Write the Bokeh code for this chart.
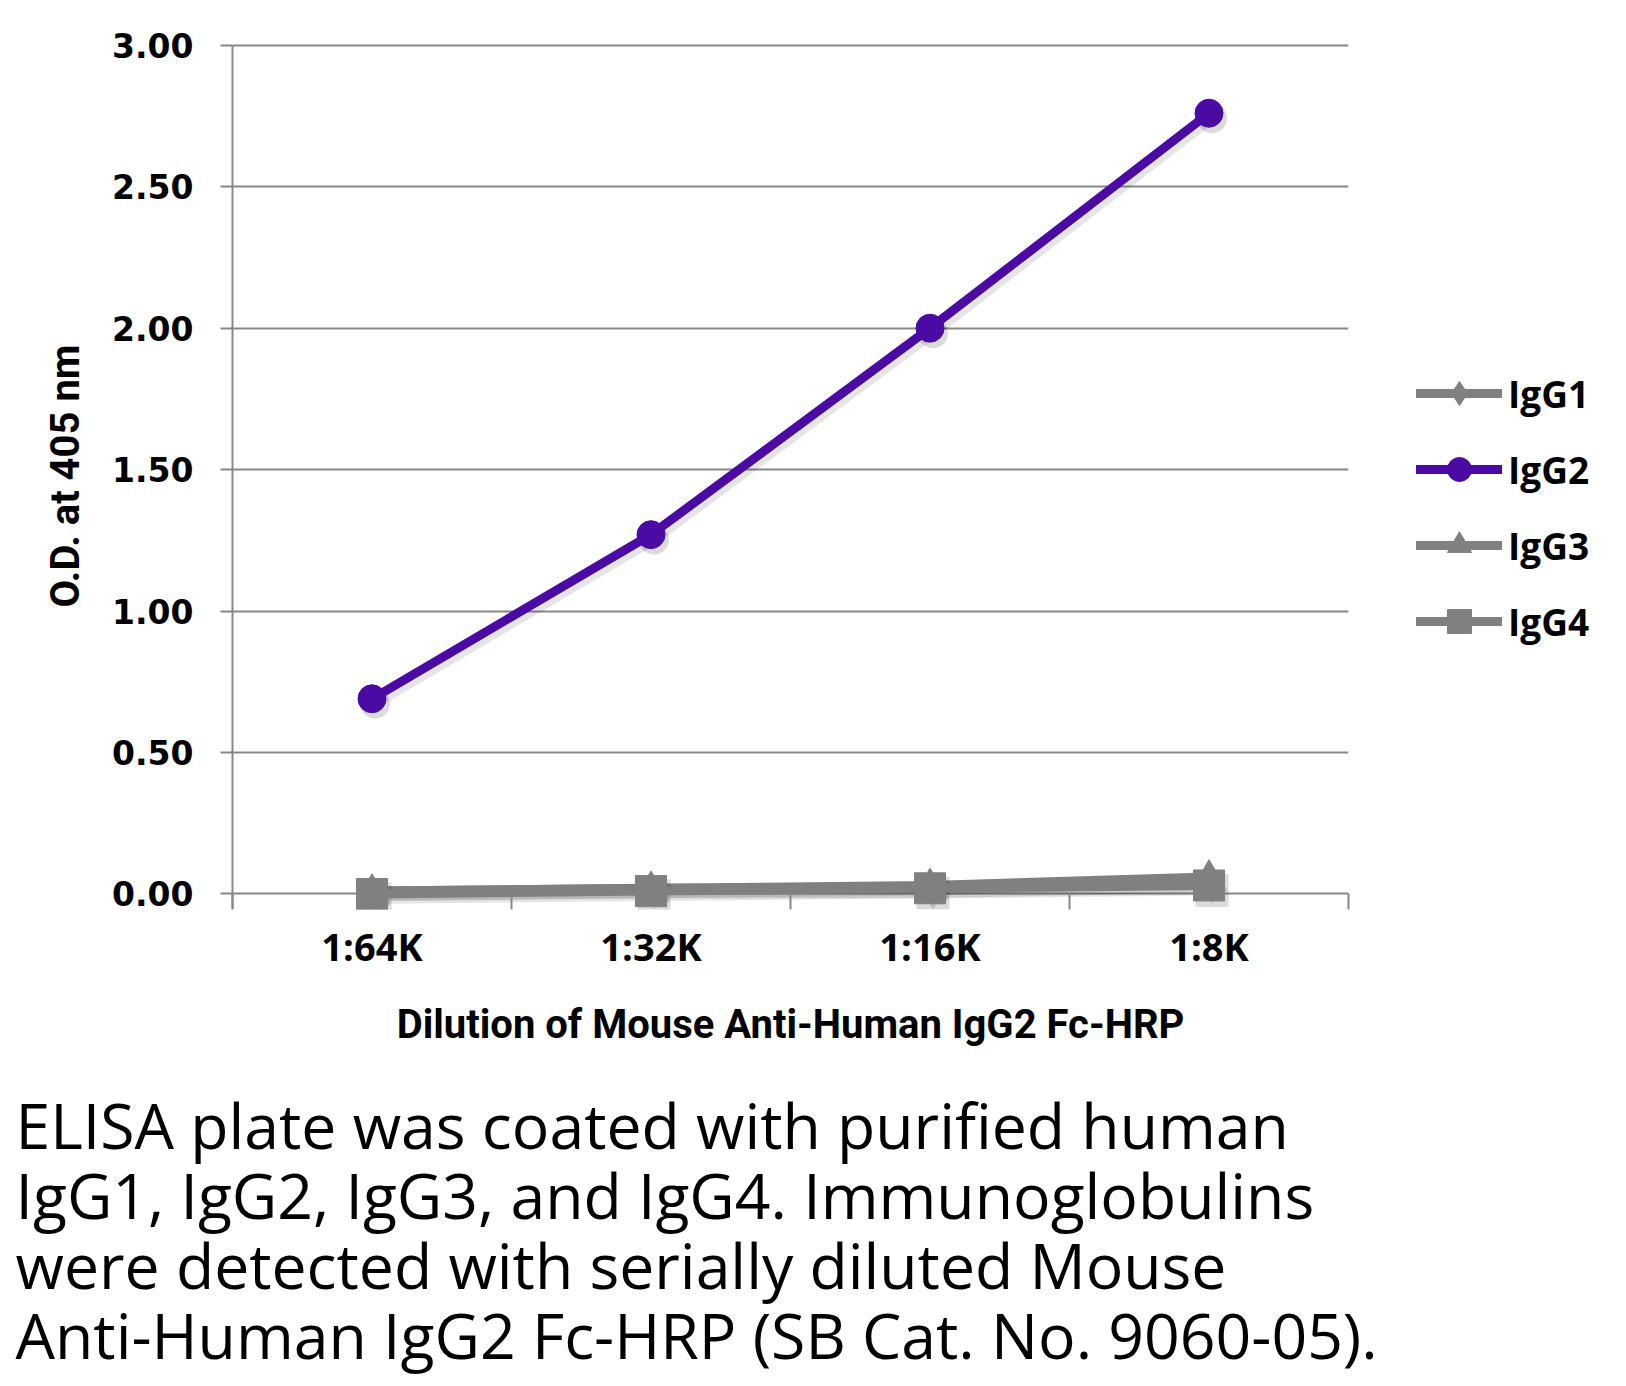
from bokeh.plotting import figure
from bokeh.models import Range1d, FixedTicker, Legend, LegendItem, Title, NumeralTickFormatter
from bokeh.embed import file_html
from bokeh.resources import INLINE

# ---------------- data ----------------
dilutions = ["1:64K", "1:32K", "1:16K", "1:8K"]
igg1 = [0.01, 0.02, 0.02, 0.04]
igg2 = [0.69, 1.27, 2.00, 2.76]
igg3 = [0.01, 0.02, 0.03, 0.06]
igg4 = [0.00, 0.01, 0.02, 0.03]
series_names = ["IgG1", "IgG2", "IgG3", "IgG4"]
y_ticks = [0.0, 0.5, 1.0, 1.5, 2.0, 2.5, 3.0]
x_title = "Dilution of Mouse Anti-Human IgG2 Fc-HRP"
y_title = "O.D. at 405 nm"
caption_lines = [
    "ELISA plate was coated with purified human",
    "IgG1, IgG2, IgG3, and IgG4.  Immunoglobulins",
    "were detected with serially diluted Mouse",
    "Anti-Human IgG2 Fc-HRP (SB Cat. No. 9060-05).",
]

# ---------------- layout ----------------
W, H = 1610, 1382
FL, FT = 232, 42            # frame left / top (px)
FW, FH = 1116, 867          # frame size (px)
FR = W - FL - FW            # right panel width (legend)
FB = FT + FH                # frame bottom
Y_START, Y_END = -0.055, 3.01
PX_X = FW / 4.0
PX_Y = FH / (Y_END - Y_START)
GRAY = "#878787"
SER_GRAY = "#808080"
PURPLE = "#4b0aa3"

xs = [i + 0.5 for i in range(len(dilutions))]
n_cat = len(dilutions)

p = figure(
    frame_width=FW, frame_height=FH,
    x_range=Range1d(0, n_cat), y_range=Range1d(Y_START, Y_END),
    output_backend="svg", toolbar_location=None,
    min_border_left=FL, min_border_top=FT,
    min_border_right=FR, min_border_bottom=H - FB,
    outline_line_color=None, background_fill_color="white", border_fill_color="white",
)

# x axis (below the frame; the 0.00 grid line acts as axis line)
xa = p.xaxis[0]
xa.ticker = FixedTicker(ticks=xs, minor_ticks=list(range(n_cat + 1)))
xa.major_label_overrides = {x: lab for x, lab in zip(xs, dilutions)}
xa.axis_line_color = None
xa.major_tick_line_color = None
xa.major_tick_out = 0
xa.major_tick_in = 0
xa.minor_tick_line_color = GRAY
xa.minor_tick_line_width = 2
xa.minor_tick_out = 0
xa.minor_tick_in = int(round(-Y_START * PX_Y))
xa.major_label_standoff = 10
xa.major_label_text_font = "Open Sans"
xa.major_label_text_font_style = "bold"
xa.major_label_text_font_size = "38px"
xa.major_label_text_color = "black"
xa.axis_label = x_title
xa.axis_label_text_font = "Roboto"
xa.axis_label_text_font_style = "bold"
xa.axis_label_text_font_size = "40px"
xa.axis_label_text_color = "black"
xa.axis_label_standoff = 26

# y axis
ya = p.yaxis[0]
ya.ticker = FixedTicker(ticks=y_ticks)
ya.formatter = NumeralTickFormatter(format="0.00")
ya.bounds = (-0.05, 3)
ya.axis_line_color = GRAY
ya.axis_line_width = 2
ya.major_tick_line_color = GRAY
ya.major_tick_line_width = 2
ya.major_tick_out = 12
ya.major_tick_in = 0
ya.minor_tick_line_color = None
ya.major_label_standoff = 27
ya.major_label_text_font = "DejaVu Sans"
ya.major_label_text_font_style = "bold"
ya.major_label_text_font_size = "33px"
ya.major_label_text_color = "black"
ya.axis_label = y_title
ya.axis_label_text_font = "Roboto"
ya.axis_label_text_font_style = "bold"
ya.axis_label_text_font_size = "40px"
ya.axis_label_text_color = "black"
ya.axis_label_standoff = 20

p.xgrid.visible = False
p.ygrid.grid_line_color = GRAY
p.ygrid.grid_line_width = 2

# ---------------- series ----------------
styles = [
    (igg1, "diamond", SER_GRAY, 30),
    (igg2, "circle", PURPLE, 28),
    (igg3, "triangle", SER_GRAY, 30),
    (igg4, "square", SER_GRAY, 31),
]

sh_x = 3 / PX_X
sh_y = 5 / PX_Y
items = []
for name, (vals, marker, color, size) in zip(series_names, styles):
    # soft drop shadow
    p.line([x + sh_x for x in xs], [v - sh_y for v in vals], line_width=10,
           line_color="black", line_alpha=0.10, line_cap="round", line_join="round")
    p.scatter([x + sh_x for x in xs], [v - sh_y for v in vals], marker=marker,
              size=size + 2, fill_color="black", fill_alpha=0.14, line_color=None)
    lr = p.line(xs, vals, line_width=9, line_color=color, line_cap="round", line_join="round")
    sr = p.scatter(xs, vals, marker=marker, size=size, fill_color=color, line_color=color)
    items.append(LegendItem(label=name, renderers=[lr, sr]))

GLYPH_H, SPACING = 60, 16
legend_h = len(items) * GLYPH_H + (len(items) - 1) * SPACING
legend_top = 393 - GLYPH_H // 2
legend = Legend(
    items=items, location=(1416 - FL - FW, FB - (legend_top + legend_h)),
    glyph_width=86, glyph_height=GLYPH_H, spacing=SPACING,
    padding=0, margin=0, label_standoff=6, label_text_font="Open Sans",
    label_text_font_style="bold", label_text_font_size="37px", label_text_color="black",
    border_line_color=None, background_fill_alpha=0,
)
p.add_layout(legend, "right")

# spacer between axis title and caption
p.add_layout(Title(text=" ", text_font="Lato", text_font_size="10px", standoff=16), "below")

# caption (multi-line) below the chart
p.add_layout(Title(text="\n".join(caption_lines), align="left", offset=15 - FL, standoff=0,
                   text_font="Open Sans", text_font_style="normal", text_font_size="62.5px",
                   text_line_height=0.824, text_color="black"), "below")

open("out.html", "w").write(file_html(p, INLINE))
